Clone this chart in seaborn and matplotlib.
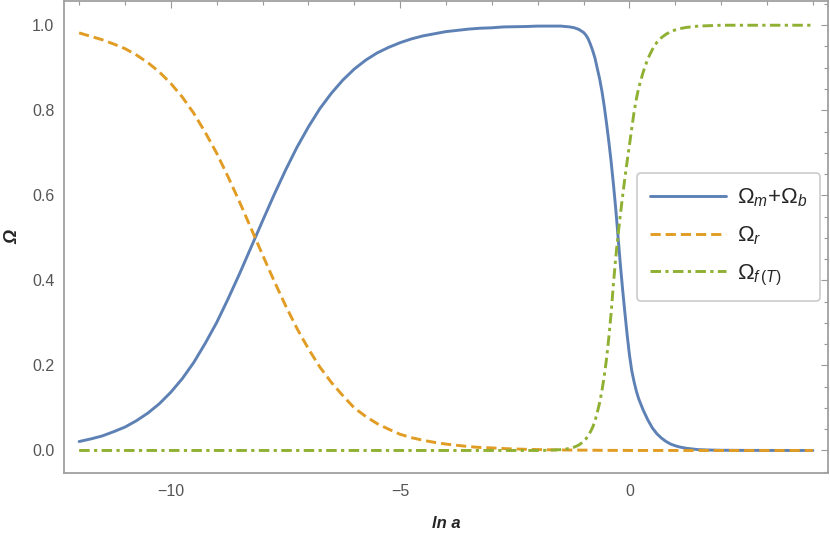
import numpy as np
import pandas as pd
import matplotlib
matplotlib.use("Agg")
import matplotlib.pyplot as plt
from matplotlib.ticker import MultipleLocator
import seaborn as sns

sns.set_style("white")
plt.rcParams['font.family'] = ['Liberation Sans', 'DejaVu Sans']
plt.rcParams['mathtext.fontset'] = 'custom'
plt.rcParams['mathtext.rm'] = 'Liberation Sans'
plt.rcParams['mathtext.it'] = 'Liberation Sans:italic'

# ln a
ln_a = [-12, -11.75, -11.5, -11.25, -11, -10.75, -10.5, -10.25, -10, -9.75, -9.5,
        -9.25, -9, -8.75, -8.5, -8.25, -8, -7.75, -7.5, -7.25, -7, -6.75, -6.5,
        -6.25, -6, -5.75, -5.5, -5.25, -5, -4.75, -4.5, -4.25, -4, -3.75, -3.5,
        -3.25, -3, -2.75, -2.5, -2.25, -2, -1.75, -1.5, -1.4, -1.3, -1.2, -1.1,
        -1.0, -0.95, -0.9, -0.85, -0.8, -0.75, -0.7, -0.65, -0.6, -0.55, -0.5,
        -0.45, -0.4, -0.35, -0.3, -0.25, -0.2, -0.15, -0.1, -0.05, 0, 0.05, 0.1,
        0.15, 0.2, 0.3, 0.4, 0.5, 0.6, 0.7, 0.8, 0.9, 1.0, 1.1, 1.25, 1.5, 1.75,
        2, 2.5, 3, 3.5, 4]

omega_mb = [0.021, 0.027, 0.034, 0.044, 0.055, 0.070, 0.088, 0.110, 0.137, 0.169,
            0.207, 0.252, 0.301, 0.357, 0.416, 0.478, 0.540, 0.601, 0.659, 0.713,
            0.761, 0.804, 0.840, 0.871, 0.897, 0.918, 0.935, 0.948, 0.959, 0.968,
            0.975, 0.980, 0.985, 0.988, 0.991, 0.993, 0.994, 0.996, 0.9965, 0.997,
            0.998, 0.998, 0.998, 0.997, 0.996, 0.994, 0.990, 0.983, 0.977, 0.968,
            0.955, 0.940, 0.922, 0.898, 0.874, 0.845, 0.810, 0.770, 0.727, 0.680,
            0.627, 0.570, 0.505, 0.440, 0.380, 0.325, 0.272, 0.225, 0.188, 0.162,
            0.140, 0.122, 0.095, 0.072, 0.053, 0.039, 0.029, 0.021, 0.015, 0.011,
            0.008, 0.005, 0.002, 0.001, 0.0005, 0.0002, 0.0001, 0.0, 0.0]

omega_r = [0.982, 0.974, 0.966, 0.956, 0.945, 0.930, 0.912, 0.890, 0.863, 0.831,
           0.793, 0.748, 0.699, 0.643, 0.584, 0.522, 0.460, 0.399, 0.341, 0.287,
           0.239, 0.196, 0.160, 0.129, 0.100, 0.080, 0.063, 0.050, 0.038, 0.030,
           0.024, 0.019, 0.015, 0.012, 0.009, 0.007, 0.006, 0.0045, 0.0035,
           0.0027, 0.0021, 0.0016, 0.0012, 0.0011, 0.001, 0.0009, 0.0008, 0.0007,
           0.0007, 0.0006, 0.0006, 0.0005, 0.0005, 0.0004, 0.0004, 0.0003, 0.0003,
           0.0003, 0.0002, 0.0002, 0.0002, 0.0002, 0.0001, 0.0001, 0.0001, 0.0001,
           0.0001, 0.0, 0.0, 0.0, 0.0, 0.0, 0.0, 0.0, 0.0, 0.0, 0.0, 0.0, 0.0, 0.0,
           0.0, 0.0, 0.0, 0.0, 0.0, 0.0, 0.0, 0.0, 0.0]

omega_f = [0.0, 0.0, 0.0, 0.0, 0.0, 0.0, 0.0, 0.0, 0.0, 0.0, 0.0, 0.0, 0.0, 0.0,
           0.0, 0.0, 0.0, 0.0, 0.0, 0.0, 0.0, 0.0, 0.0, 0.0, 0.0, 0.0, 0.0, 0.0,
           0.0, 0.0, 0.0, 0.0, 0.0, 0.0, 0.0, 0.0, 0.0, 0.0, 0.0, 0.0, 0.0, 0.0005,
           0.002, 0.003, 0.005, 0.008, 0.013, 0.021, 0.027, 0.035, 0.044, 0.055,
           0.070, 0.090, 0.112, 0.140, 0.174, 0.215, 0.265, 0.322, 0.390, 0.452,
           0.505, 0.552, 0.597, 0.640, 0.680, 0.718, 0.757, 0.795, 0.826, 0.852,
           0.890, 0.921, 0.943, 0.960, 0.971, 0.979, 0.985, 0.989, 0.992, 0.995,
           0.998, 0.999, 1.0, 1.0, 1.0, 1.0, 1.0]

df = pd.DataFrame({'ln a': ln_a, 'mb': omega_mb, 'r': omega_r, 'f': omega_f})

fig = plt.figure(figsize=(8.3, 5.38), dpi=100)
ax = fig.add_axes([64 / 830, 65 / 538, 764 / 830, 472 / 538])

sns.lineplot(data=df, x='ln a', y='mb', ax=ax, color='#5E81B5', lw=2.1,
             label=r'$\Omega_m$+$\Omega_b$', sort=False)
sns.lineplot(data=df, x='ln a', y='r', ax=ax, color='#E19C24', lw=2.1,
             linestyle=(0, (3.5, 1.7)), label=r'$\Omega_r$', sort=False)
sns.lineplot(data=df, x='ln a', y='f', ax=ax, color='#8FB032', lw=2.1,
             linestyle=(0, (3.6, 1.5, 1.1, 1.5)), label=r'$\Omega_{f\,(T)}$', sort=False)

ax.set_xlim(-12.33, 4.33)
ax.set_ylim(-0.053, 1.057)
ax.xaxis.set_minor_locator(MultipleLocator(1))
ax.yaxis.set_minor_locator(MultipleLocator(0.05))
ax.set_xticks([-10, -5, 0])
ax.set_xticklabels(['\u221210', '\u22125', '0'])
ax.set_yticks([0, 0.2, 0.4, 0.6, 0.8, 1.0])
ax.set_yticklabels(['0.0', '0.2', '0.4', '0.6', '0.8', '1.0'])

ax.tick_params(which='both', direction='in', top=True, right=True,
               color='#999999', labelcolor='#555555', labelsize=11.5, width=0.8)
ax.tick_params(which='major', length=5, pad=8)
ax.tick_params(which='minor', length=3)
ax.tick_params(axis='y', which='major', pad=7)
for s in ax.spines.values():
    s.set_color('#a0a0a0')
    s.set_linewidth(1.3)

ax.set_xlabel('ln a', fontsize=12, fontweight='bold', style='italic', labelpad=12)
ax.set_ylabel('\u03a9', fontsize=13, fontweight='bold', style='italic', labelpad=8)

leg = ax.legend(loc='center right', bbox_to_anchor=(0.99, 0.5), fontsize=16,
                frameon=True, fancybox=True, framealpha=1, edgecolor='#cccccc',
                handlelength=3.4, handletextpad=0.5, borderpad=0.6, labelspacing=0.7,
                borderaxespad=0)
leg.get_frame().set_linewidth(1.2)

fig.savefig('out.png', dpi=100)
